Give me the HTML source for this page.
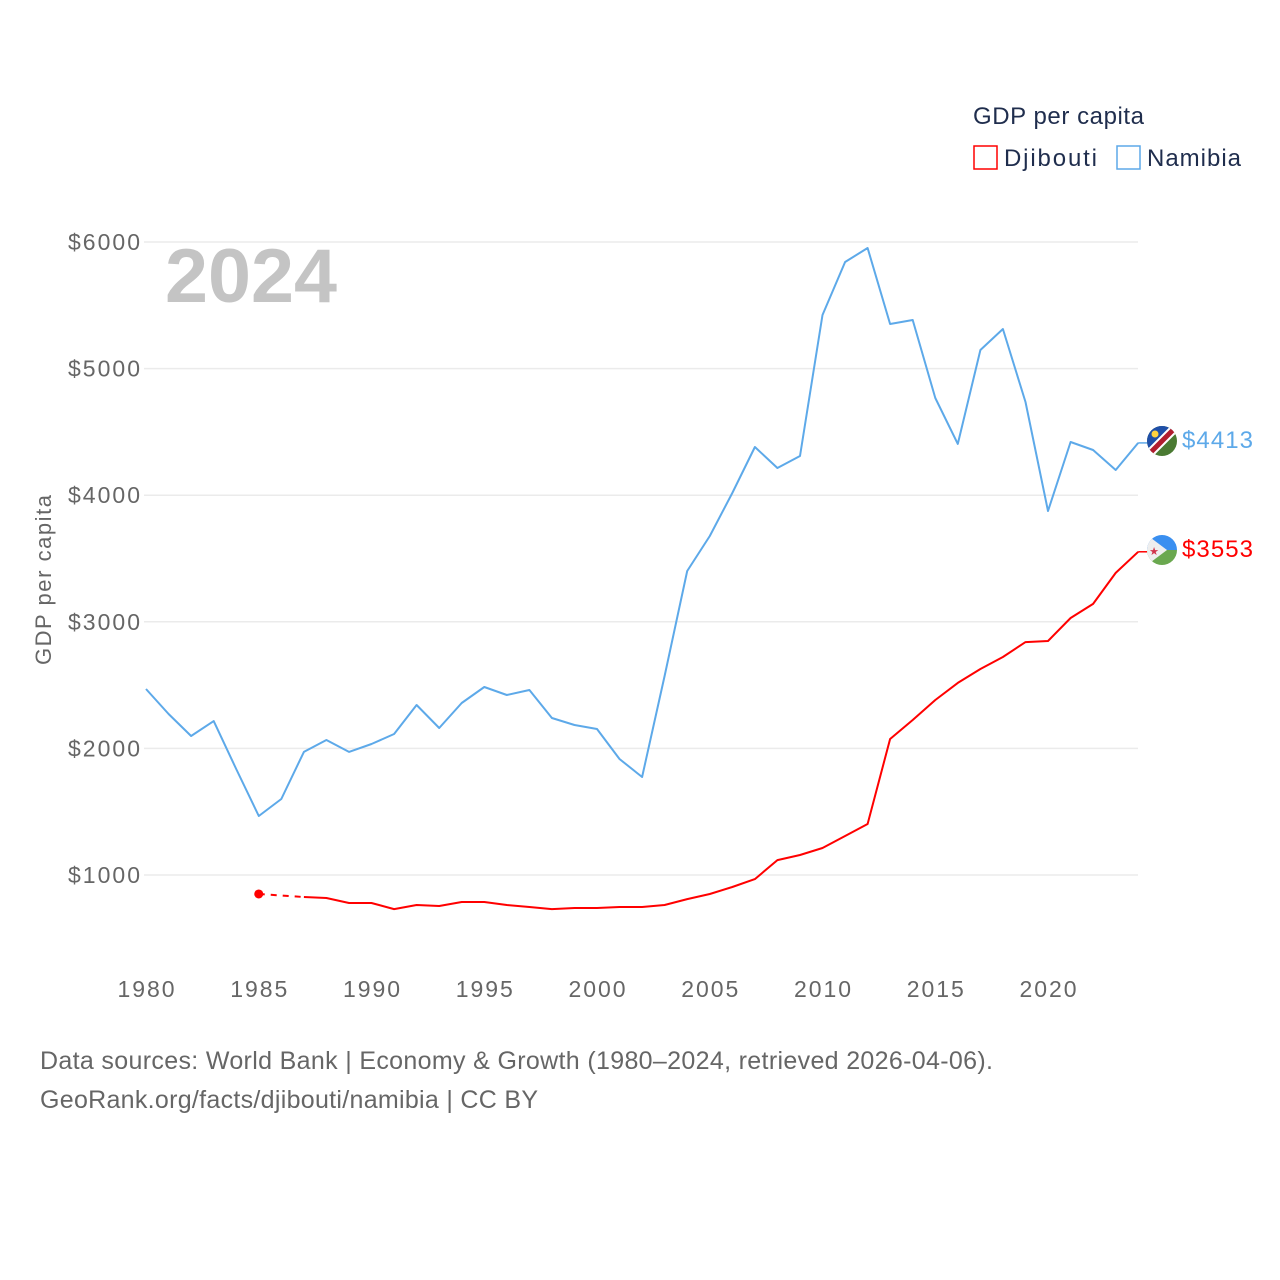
<!DOCTYPE html>
<html><head><meta charset="utf-8"><style>
body{margin:0;background:#fff;}
svg{display:block;font-family:"Liberation Sans",sans-serif;}
</style></head><body>
<svg id="chart" width="1280" height="1280" viewBox="0 0 1280 1280">
<g id="grid"></g>
<g id="axes"></g>
<text x="165" y="302" font-size="76" font-weight="bold" fill="#c4c4c4" textLength="172" lengthAdjust="spacingAndGlyphs">2024</text>
<text x="51" y="580" font-size="22" fill="#666" transform="rotate(-90 51 580)" text-anchor="middle" textLength="170">GDP per capita</text>
<text x="973" y="124" font-size="24" fill="#1f2d4d" textLength="171">GDP per capita</text>
<g>
<rect x="974" y="146" width="23" height="23" fill="none" stroke="#ff0000" stroke-width="1.5"/>
<text x="1004" y="166" font-size="24" fill="#1f2d4d" textLength="93">Djibouti</text></g>
<g>
<rect x="1117" y="146" width="23" height="23" fill="none" stroke="#5da9e9" stroke-width="1.5"/>
<text x="1147" y="166" font-size="24" fill="#1f2d4d" textLength="94">Namibia</text></g>
<g id="series"></g>
<defs>
<clipPath id="c1"><circle cx="1162" cy="441" r="15"/></clipPath>
<clipPath id="c2"><circle cx="1162" cy="550" r="15"/></clipPath>
</defs>
<g clip-path="url(#c1)">
<rect x="1147" y="426" width="30" height="30" fill="#4a7a32"/>
<polygon points="1147,426 1177,426 1147,456" fill="#1f4fa8"/>
<line x1="1145" y1="458" x2="1179" y2="424" stroke="#fff" stroke-width="9"/>
<line x1="1145" y1="458" x2="1179" y2="424" stroke="#b01c2e" stroke-width="5"/>
<circle cx="1155" cy="434" r="3.5" fill="#ffd23f"/>
</g>
<g clip-path="url(#c2)">
<rect x="1147" y="535" width="30" height="15" fill="#3a8ff0"/>
<rect x="1147" y="550" width="30" height="15" fill="#6aa84f"/>
<polygon points="1147,535 1167,550 1147,565" fill="#eeeeee"/>
<text x="1154" y="555" font-size="11" fill="#d1344b" text-anchor="middle">★</text>
</g>
<text x="1182" y="448" font-size="24" fill="#5da9e9" textLength="71">$4413</text>
<text x="1182" y="557" font-size="24" fill="#ff0000" textLength="71">$3553</text>
<text x="40" y="1069" font-size="25" fill="#666" textLength="953">Data sources: World Bank | Economy &amp; Growth (1980–2024, retrieved 2026-04-06).</text>
<text x="40" y="1108" font-size="25" fill="#666" textLength="498">GeoRank.org/facts/djibouti/namibia | CC BY</text>
</svg>
<script>
const years = [];
for (let y = 1980; y <= 2024; y++) years.push(y);
const namibia = [2469,2272,2098,2216,1837,1466,1600,1972,2066,1972,2035,2114,2343,2161,2359,2485,2422,2461,2240,2185,2153,1916,1774,2572,3401,3678,4017,4381,4215,4310,5423,5842,5953,5352,5384,4768,4405,5147,5313,4736,3875,4420,4357,4199,4413];
const djibouti = [null,null,null,null,null,850,null,826,818,779,779,731,763,755,787,787,763,747,731,739,739,747,747,763,810,850,905,968,1118,1158,1213,1308,1403,2074,2224,2382,2517,2627,2722,2840,2848,3030,3141,3386,3553];
const yTicks = [1000,2000,3000,4000,5000,6000];
const xTicks = [1980,1985,1990,1995,2000,2005,2010,2015,2020];

const NS = "http://www.w3.org/2000/svg";
const xS = yr => 146 + (yr - 1980) * 22.55;
const yS = v => 875 - (v - 1000) * 0.1266;
function mk(tag, attrs, parent) {
  const e = document.createElementNS(NS, tag);
  for (const k in attrs) e.setAttribute(k, attrs[k]);
  parent.appendChild(e);
  return e;
}
const grid = document.getElementById('grid');
const axes = document.getElementById('axes');
const series = document.getElementById('series');

yTicks.forEach(v => {
  const l = mk('line', {x1: 144, x2: 1138, y1: yS(v), y2: yS(v), stroke: '#ebebeb', 'stroke-width': 1.5}, grid);
  
  
  const t = mk('text', {x: 140, y: yS(v) + 8, 'font-size': 23, fill: '#666', 'text-anchor': 'end', textLength: 72}, axes);
  t.textContent = '$' + v;
  
  
});
xTicks.forEach(yr => {
  const t = mk('text', {x: xS(yr), y: 997, 'font-size': 23, fill: '#666', 'text-anchor': 'middle', textLength: 57}, axes);
  t.textContent = yr;
  
  
});

function path(vals) {
  let d = '', pen = false;
  vals.forEach((v, i) => {
    if (v == null) { pen = false; return; }
    d += (pen ? 'L' : 'M') + xS(years[i]).toFixed(1) + ',' + yS(v).toFixed(1);
    pen = true;
  });
  return d;
}
const nl = mk('path', {d: path(namibia), fill: 'none', stroke: '#5da9e9', 'stroke-width': 2, 'stroke-linejoin': 'round'}, series);



const i0 = 5, i1 = 7;
const dg = mk('line', {x1: xS(years[i0]), y1: yS(djibouti[i0]), x2: xS(years[i1]), y2: yS(djibouti[i1]), stroke: '#ff0000', 'stroke-width': 2, 'stroke-dasharray': '6,6'}, series);


const dl = mk('path', {d: path(djibouti.map((v, i) => i < i1 ? null : v)), fill: 'none', stroke: '#ff0000', 'stroke-width': 2, 'stroke-linejoin': 'round'}, series);


const dot = mk('circle', {cx: xS(years[i0]), cy: yS(djibouti[i0]), r: 4.5, fill: '#ff0000'}, series);



const last = years.length - 1;
const c1 = mk('line', {x1: xS(2024), y1: yS(namibia[last]), x2: 1147, y2: yS(namibia[last]), stroke: '#5da9e9', 'stroke-width': 1.5}, series);


const c2 = mk('line', {x1: xS(2024), y1: yS(djibouti[last]), x2: 1147, y2: yS(djibouti[last]), stroke: '#ff0000', 'stroke-width': 1.5}, series);


</script>
</body></html>
